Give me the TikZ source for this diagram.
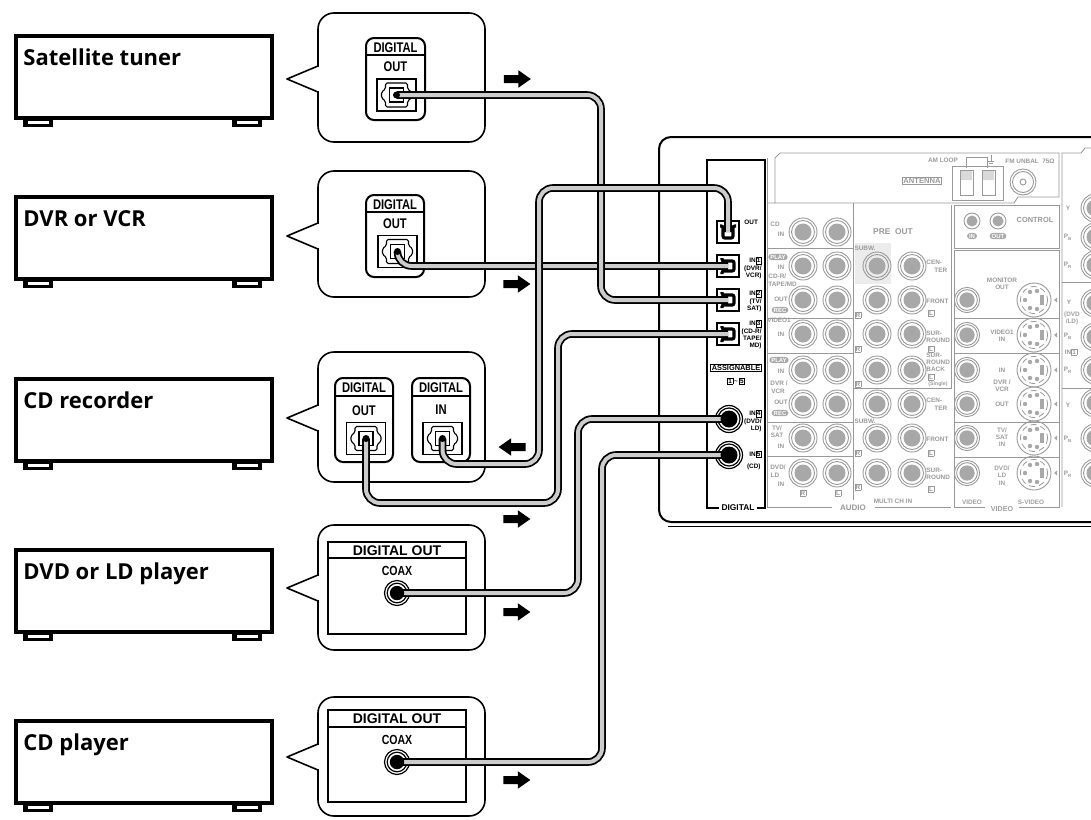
\documentclass[tikz,border=0pt]{standalone}
\usepackage{fontspec}
\setmainfont{Liberation Sans}
\newfontfamily\devfont{Open Sans}
\newfontfamily\narrowfont[FakeStretch=0.8]{Liberation Sans}
\usepackage{tikz}
\usetikzlibrary{arrows.meta}
\usetikzlibrary{shapes.arrows}

\definecolor{panelgrey}{gray}{0.6}
\definecolor{jackgrey}{gray}{0.66}
\definecolor{cablegrey}{gray}{0.8}

\newcommand{\bx}[1]{{\fboxsep=0.3pt\fboxrule=0.25pt\fbox{#1}}}

% grey sockets of the receiver
\newcommand{\rcasock}[2]{%
  \draw[panelgrey, line width=0.45pt] (#1,#2) circle (14);
  \draw[panelgrey, line width=0.45pt] (#1,#2) circle (11.5);
  \fill[jackgrey] (#1,#2) circle (8.5);}
\newcommand{\svsock}[2]{%
  \begin{scope}[shift={(#1,#2)}]
    \draw[panelgrey, line width=0.45pt] (0,0) circle (17);
    \draw[panelgrey, line width=0.4pt, densely dashed] (0,0) circle (13.5);
    \fill[jackgrey] (-4,-8) circle (2.2) (3,-9) circle (2.2) (-9,0) circle (2.2)
      (-4,8) circle (2.2) (3,9) circle (2.2);
    \fill[jackgrey] (6,-5) rectangle (10,5);
    \fill[jackgrey] (20,0) -- (23,-2.5) -- (23,2.5) -- cycle;
  \end{scope}}

% sockets on the source components
\newcommand{\optsock}[2]{%
  \begin{scope}[shift={(#1,#2)}]
    \draw[line width=0.8pt] (-19.5,-16) rectangle (19.5,16);
    \draw[line width=0.55pt, rounded corners=0.8pt] (-11,-12) -- (11,-12) -- (11,-6)
      -- (15,-3) -- (15,3) -- (11,6) -- (11,12) -- (-11,12) -- (-11,6) -- (-15,3)
      -- (-15,-3) -- (-11,-6) -- cycle;
    \draw[line width=0.9pt] (-7,-7) rectangle (7,7);
  \end{scope}}
\newcommand{\coaxsock}[2]{%
  \draw[line width=0.6pt] (#1,#2) circle (12.5);
  \draw[line width=0.6pt] (#1,#2) circle (9.8);}
\newcommand{\coaxplug}[2]{\fill (#1,#2) circle (7.2);}

% black digital sockets of the receiver
\newcommand{\rxoptframe}[2]{\draw[line width=0.6pt] (#1-11,#2-11) rectangle (#1+11,#2+11);}
\newcommand{\rxoptplug}[3]{%
  \begin{scope}[shift={(#1,#2)}, rotate=#3]
    \draw[line width=1.6pt, rounded corners=1pt] (-8,-6) -- (-5,-6) -- (-5,6) -- (5,6) -- (5,-6) -- (8,-6);
  \end{scope}}
\newcommand{\rxcoax}[2]{%
  \draw[line width=0.6pt] (#1,#2) circle (13.5);
  \draw[line width=0.6pt] (#1,#2) circle (11);}

\newcommand{\feet}[1]{%
  \foreach \fx in {23,232} {
    \fill (\fx,#1-2) rectangle (\fx+30,#1+9);
    \fill[white] (\fx+4.5,#1+3) rectangle (\fx+25.5,#1+6);}}

\newcommand{\callout}[3]{% top, bottom, tip
  \draw[bubble, rounded corners=8pt] (318,#1) rectangle (485,#2);
  \fill[white] (316,#3-12) rectangle (320,#3+12);
  \draw[bubble] (318,#3-13) -- (287,#3) -- (318,#3+13);}

\begin{document}
\begin{tikzpicture}[x=0.5pt, y=-0.5pt]

  \tikzstyle{device}=[draw, line width=1.9pt, minimum width=128pt, minimum height=41pt, inner sep=0pt, anchor=north west]
  \tikzstyle{devlabel}=[font={\devfont\bfseries\fontsize{11}{13}\selectfont}, inner sep=0pt, anchor=base west]
  \tikzstyle{bubble}=[line width=0.8pt, line join=round]
  \tikzstyle{jackpanel}=[line width=1pt, rounded corners=4pt]
  \tikzstyle{jackhdr}=[font={\narrowfont\bfseries\fontsize{7}{8}\selectfont}, inner sep=0pt]
  \tikzstyle{coaxhdr}=[font={\bfseries\fontsize{7}{8}\selectfont}, inner sep=0pt]
  \tikzstyle{coaxname}=[font={\narrowfont\bfseries\fontsize{6.6}{8}\selectfont}, inner sep=0pt]
  \tikzstyle{cable}=[line width=3.8pt, rounded corners=7pt, postaction={draw=cablegrey, line width=2pt}]
  \tikzstyle{flowarrow}=[single arrow, fill=black, inner xsep=0pt, inner ysep=1.8pt, text height=0pt, text depth=0pt, minimum height=13.5pt, single arrow head extend=2.4pt, single arrow tip angle=70]
  \tikzstyle{rxlabel}=[font={\bfseries\fontsize{3.2}{3.6}\selectfont}, inner sep=0pt]
  \tikzstyle{greyline}=[draw=panelgrey, line width=0.45pt]
  \tikzstyle{glabel}=[font={\bfseries\fontsize{3.2}{3.6}\selectfont}, text=panelgrey, inner sep=0pt, align=center]
  \tikzstyle{gpill}=[font={\bfseries\fontsize{3}{3.4}\selectfont}, fill=jackgrey, text=white, rounded corners=1.6pt, inner xsep=1pt, inner ysep=0.5pt]

  \useasboundingbox (0,0) rectangle (1091,819);
  \clip (0,0) rectangle (1091,819);

  % source components
  \node[device] (sat) at (14,34) {};
  \node[device] (dvr) at (14,195) {};
  \node[device] (cdr) at (14,377) {};
  \node[device] (dvd) at (14,548) {};
  \node[device] (cdp) at (14,719) {};
  \feet{118} \feet{279} \feet{461} \feet{632} \feet{803}
  \node[devlabel] (satname) at (23,65) {Satellite tuner};
  \node[devlabel] (dvrname) at (23,226) {DVR or VCR};
  \node[devlabel] (cdrname) at (23,408) {CD recorder};
  \node[devlabel] (dvdname) at (23,579) {DVD or LD player};
  \node[devlabel] (cdpname) at (23,750) {CD player};

  % callouts
  \callout{13}{142}{79}
  \callout{171}{297}{236}
  \callout{352}{482}{418}
  \callout{525}{650}{588}
  \callout{697}{816}{757}

  % satellite tuner output
  \draw[jackpanel] (366,38) rectangle (425,120);
  \draw[line width=1pt] (366,55) -- (425,55);
  \node[jackhdr] (sathdr) at (395.5,47.5) {DIGITAL};
  \node[jackhdr] (satport) at (395.5,67) {OUT};
  \optsock{396.5}{95}

  % dvr output
  \draw[jackpanel] (366,195) rectangle (424,277);
  \draw[line width=1pt] (366,212) -- (424,212);
  \node[jackhdr] (dvrhdr) at (395,204.5) {DIGITAL};
  \node[jackhdr] (dvrport) at (395,224) {OUT};
  \optsock{397.5}{251.5}

  % cd recorder output and input
  \draw[jackpanel] (335,378) rectangle (393,462);
  \draw[line width=1pt] (335,396) -- (393,396);
  \node[jackhdr] (cdrouthdr) at (364,388) {DIGITAL};
  \node[jackhdr] (cdroutport) at (364,411) {OUT};
  \optsock{366}{438.5}
  \draw[jackpanel] (412,378) rectangle (470,462);
  \draw[line width=1pt] (412,396) -- (470,396);
  \node[jackhdr] (cdrinhdr) at (441,388) {DIGITAL};
  \node[jackhdr] (cdrinport) at (441,410) {IN};
  \optsock{442.5}{438.5}

  % dvd output
  \draw[line width=0.9pt] (328,542) rectangle (466,634);
  \draw[line width=0.9pt] (328,558) -- (466,558);
  \node[coaxhdr] (dvdhdr) at (397,550.5) {DIGITAL OUT};
  \node[coaxname] (dvdport) at (397,571) {COAX};
  \coaxsock{397}{593}

  % cd player output
  \draw[line width=0.9pt] (328,710) rectangle (466,802);
  \draw[line width=0.9pt] (328,727) -- (466,727);
  \node[coaxhdr] (cdphdr) at (397,719) {DIGITAL OUT};
  \node[coaxname] (cdpport) at (397,740) {COAX};
  \coaxsock{397}{762}

  % receiver rear panel
  \draw[line width=1pt, rounded corners=6pt] (1100,137) -- (659,137) -- (659,522) -- (1100,522);
  \draw[line width=0.8pt] (668,526.5) -- (1100,526.5);

  \fill[gray!15] (855,243) rectangle (891,284);
  \draw[greyline] (767,158) -- (767,507) -- (832,507);
  \draw[greyline] (875,507) -- (951,507);
  \draw[greyline] (767,203) -- (1014,203) -- (1018,197) -- (1059,197) -- (1059,153) -- (780,153) -- (775,158) -- (775,203);
  \draw[greyline] (853,203) -- (853,500);
  \draw[greyline] (853,388) -- (951,388) -- (951,205);
  \foreach \y in {248,318,353,422,456} \draw[greyline] (767,\y) -- (853,\y);
  \draw[greyline] (954,205) rectangle (1059,248);
  \draw[greyline] (985,507) -- (954,507) -- (954,250) -- (1059,250) -- (1059,507) -- (1019,507);
  \foreach \y in {318,353,422,457} \draw[greyline] (954,\y) -- (1059,\y);
  \draw[greyline] (1062,507) -- (1062,153) -- (1081,153) -- (1085,148) -- (1095,148);
  \foreach \y in {282,388} \draw[greyline] (1062,\y) -- (1095,\y);

  \foreach \y in {232,266,300,334,370,404,438,473} {\rcasock{803}{\y} \rcasock{837}{\y}}
  \foreach \y in {266,300,334,370,404,438,473} {\rcasock{877}{\y} \rcasock{912}{\y}}
  \foreach \y in {300,335,370,404,438,473} {
    \begin{scope}[shift={(967,\y)}, scale=0.9] \rcasock{0}{0} \end{scope}
    \svsock{1034}{\y}}
  \foreach \y in {208,237,265,303,337,370,403,438,473} {\rcasock{1095}{\y}}

  % antenna and control
  \draw[greyline] (952,166) rectangle (1003,200);
  \draw[greyline] (960,170) rectangle (973,195) (982,170) rectangle (995,195);
  \fill[gray!30] (961,171) rectangle (972,180) (983,171) rectangle (994,180);
  \draw[greyline] (966,168) -- (966,157) -- (987,157) -- (987,168);
  \draw[greyline] (991,155) -- (991,161) (988,161) -- (994,161) (989,163) -- (993,163);
  \draw[greyline] (1023,182) circle (13) (1023,182) circle (10.5) (1023,182) circle (3);
  \draw[greyline] (972,221) circle (8) (998,221) circle (8);
  \fill[jackgrey] (972,221) circle (5.5) (998,221) circle (5.5);
  \node[glabel] (gamloop) at (943,160) {AM LOOP};
  \node[glabel, font={\bfseries\fontsize{3.8}{4.2}\selectfont}, draw=panelgrey, inner sep=0.6pt] (gantenna) at (922,181) {ANTENNA};
  \node[glabel] (gfm) at (1030,161) {FM UNBAL\ \ 75Ω};
  \node[gpill] (gctlin) at (972,236) {IN};
  \node[gpill] (gctlout) at (998,236) {OUT};
  \node[glabel, font={\bfseries\fontsize{3.7}{4.2}\selectfont}] (gcontrol) at (1035,220) {CONTROL};

  % audio inputs
  \node[glabel] (gcd) at (775,224) {CD};
  \node[glabel] (gcdin) at (781,234) {IN};
  \node[gpill] (gplay1) at (778,257) {PLAY};
  \node[glabel] (gin1) at (781,267) {IN};
  \node[glabel, anchor=west] (gcdr) at (768,276) {CD-R/};
  \node[glabel, anchor=west] (gtape) at (768,284) {TAPE/MD};
  \node[glabel] (gout1) at (781,299) {OUT};
  \node[gpill] (grec1) at (780,310) {REC};
  \node[glabel] (gvideo1) at (779,320) {VIDEO1};
  \node[glabel] (gin2) at (781,334) {IN};
  \node[gpill] (gplay2) at (779,360) {PLAY};
  \node[glabel] (gin3) at (781,371) {IN};
  \node[glabel] (gdvr) at (779,383) {DVR /};
  \node[glabel] (gvcr) at (778,391) {VCR};
  \node[glabel] (gout2) at (781,402) {OUT};
  \node[gpill] (grec2) at (780,413) {REC};
  \node[glabel] (gtv) at (777,428) {TV/};
  \node[glabel] (gsat) at (777,435) {SAT};
  \node[glabel] (gin4) at (781,446) {IN};
  \node[glabel] (gdvd) at (778,467) {DVD/};
  \node[glabel] (gld) at (775,475) {LD};
  \node[glabel] (gin5) at (781,484) {IN};
  \node[glabel] (gr1) at (803,493) {\bx{R}};
  \node[glabel] (gl1) at (838,493) {\bx{L}};
  \node[glabel, font={\bfseries\fontsize{4}{4.5}\selectfont}] (gaudio) at (853,508) {AUDIO};

  % pre out and multi channel in
  \node[glabel, font={\bfseries\fontsize{4.2}{5}\selectfont}] (gpreout) at (893,232) {PRE\ \ OUT};
  \node[glabel] (gsubw1) at (865,248) {SUBW.};
  \node[glabel, anchor=west] (gcen1) at (926,262) {CEN-};
  \node[glabel, anchor=west] (gter1) at (934,270) {TER};
  \node[glabel, anchor=west] (gfront1) at (926,301) {FRONT};
  \node[glabel] (gfl1) at (931,313) {\bx{L}};
  \node[glabel, anchor=west, align=left] (gsur1) at (926,337) {SUR-\\ROUND};
  \node[glabel] (gsl1) at (931,349) {\bx{L}};
  \node[glabel, anchor=west, align=left] (gsb1) at (926,362) {SUR-\\ROUND\\BACK};
  \node[glabel] (gsbl1) at (931,377) {\bx{L}};
  \node[glabel, font={\bfseries\fontsize{2.6}{3}\selectfont}] (gsingle) at (938,384) {(Single)};
  \node[glabel] (gfr1) at (858,315) {\bx{R}};
  \node[glabel] (gsr1) at (858,349) {\bx{R}};
  \node[glabel] (gsbr1) at (858,384) {\bx{R}};
  \node[glabel, anchor=west] (gcen2) at (926,400) {CEN-};
  \node[glabel, anchor=west] (gter2) at (934,408) {TER};
  \node[glabel] (gsubw2) at (865,421) {SUBW.};
  \node[glabel, anchor=west] (gfront2) at (926,439) {FRONT};
  \node[glabel] (gfl2) at (931,453) {\bx{L}};
  \node[glabel] (gfr2) at (858,453) {\bx{R}};
  \node[glabel, anchor=west, align=left] (gsur2) at (926,474) {SUR-\\ROUND};
  \node[glabel] (gsl2) at (931,489) {\bx{L}};
  \node[glabel] (gsr2) at (858,487) {\bx{R}};
  \node[glabel] (gmulti) at (893,501) {MULTI CH IN};

  % video section
  \node[glabel] (gmonitor) at (1002,283.5) {MONITOR\\OUT};
  \node[glabel] (gvideo1in) at (1002,336) {VIDEO1\\IN};
  \node[glabel] (gvdvrin) at (1002,370) {IN};
  \node[glabel] (gvdvr) at (1002,385.5) {DVR /\\VCR};
  \node[glabel] (gvdvrout) at (1002,404) {OUT};
  \node[glabel, text=gray!75] (gvtv) at (1002,437) {TV/\\SAT\\IN};
  \node[glabel, text=gray!75] (gvdvd) at (1002,475.5) {DVD/\\LD\\IN};
  \node[glabel, text=gray!75] (gvvideo) at (972,502) {VIDEO};
  \node[glabel, text=gray!75] (gvsvideo) at (1031,502) {S-VIDEO};
  \node[glabel, text=gray!75, font={\bfseries\fontsize{3.6}{4}\selectfont}] (gvideo) at (1002,509) {VIDEO};

  % component video column
  \node[glabel] (gy1) at (1068,208) {Y};
  \node[glabel] (gpb1) at (1068,237) {P\textsubscript{B}};
  \node[glabel] (gpr1) at (1068,265) {P\textsubscript{R}};
  \node[glabel] (gy2) at (1069,302) {Y};
  \node[glabel, text=gray!75] (gdvdld) at (1072,318) {(DVD\\/LD)};
  \node[glabel] (gpb2) at (1068,336) {P\textsubscript{B}};
  \node[glabel] (gcompin) at (1071,352) {IN\bx{1}};
  \node[glabel] (gpr2) at (1068,370) {P\textsubscript{R}};
  \node[glabel] (gy3) at (1068,405) {Y};
  \node[glabel] (gpb3) at (1068,439) {P\textsubscript{B}};
  \node[glabel] (gpr3) at (1068,474) {P\textsubscript{R}};

  % digital inputs
  \draw[line width=0.6pt] (719,508) -- (707,508) -- (707,160) -- (765,160) -- (765,508) -- (757,508);
  \node[rxlabel, font={\bfseries\fontsize{4.2}{5}\selectfont}] (diglabel) at (738,508) {DIGITAL};
  \node[rxlabel, anchor=west] (outlabel) at (744,222) {OUT};
  \node[rxlabel, anchor=north east, align=right] (in1label) at (762,257) {IN\bx{1}\\(DVR/\\VCR)};
  \node[rxlabel, anchor=north east, align=right] (in2label) at (762,290) {IN\bx{2}\\(TV/\\SAT)};
  \node[rxlabel, anchor=north east, align=right] (in3label) at (762,320) {IN\bx{3}\\(CD-R/\\TAPE/\\MD)};
  \node[rxlabel, font={\bfseries\fontsize{3.7}{4}\selectfont}, draw, line width=0.4pt, inner sep=0.5pt] (assign) at (736,368) {ASSIGNABLE};
  \node[rxlabel] (assignrange) at (736,381) {\bx{1}\,\textasciitilde\,\bx{5}};
  \node[rxlabel, anchor=north east, align=right] (in4label) at (762,410) {IN\bx{4}\\(DVD/\\LD)};
  \node[rxlabel, anchor=east] (in5label) at (762,454) {IN\bx{5}};
  \node[rxlabel, anchor=east] (in5name) at (761,467) {(CD)};
  \rxoptframe{728}{232} \rxoptframe{728}{266} \rxoptframe{728}{300} \rxoptframe{728}{334}
  \rxcoax{729}{419} \rxcoax{729}{455}

  % jack points
  \coordinate (satjack) at (396.5,95);
  \coordinate (dvrjack) at (397.5,251.5);
  \coordinate (cdroutjack) at (366,438.5);
  \coordinate (cdrinjack) at (442.5,438.5);
  \coordinate (dvdjack) at (397,593);
  \coordinate (cdjack) at (397,762);
  \coordinate (rxout) at (728,232);
  \coordinate (rxin1) at (728,266);
  \coordinate (rxin2) at (728,300);
  \coordinate (rxin3) at (728,334);
  \coordinate (rxin4) at (729,419);
  \coordinate (rxin5) at (729,455);

  % cables
  \draw[cable] (dvrjack) |- (rxin1);
  \draw[cable] (satjack) -| (601,200) |- (rxin2);
  \draw[cable] (cdrinjack) |- (539,464) |- (728,188) -- (rxout);
  \draw[cable] (cdroutjack) |- (558,503) |- (rxin3);
  \draw[cable] (dvdjack) -| (578,500) |- (rxin4);
  \draw[cable] (cdjack) -| (602,600) |- (rxin5);

  % plugs
  \foreach \p in {satjack,dvrjack,cdroutjack,cdrinjack} \fill (\p) circle (3.5);
  \coaxplug{397}{593} \coaxplug{397}{762}
  \rxoptplug{728}{232}{0} \rxoptplug{728}{266}{90} \rxoptplug{728}{300}{90} \rxoptplug{728}{334}{90}
  \fill (rxin4) circle (8.5);
  \fill (rxin5) circle (8.5);

  % signal direction
  \node[flowarrow] (flowsat) at (514.5,79) {};
  \node[flowarrow] (flowdvr) at (514,284) {};
  \node[flowarrow, shape border rotate=180] (flowcdrin) at (515,447) {};
  \node[flowarrow] (flowcdrout) at (514,519) {};
  \node[flowarrow] (flowdvd) at (514,612) {};
  \node[flowarrow] (flowcdp) at (514,780) {};

\end{tikzpicture}
\end{document}
